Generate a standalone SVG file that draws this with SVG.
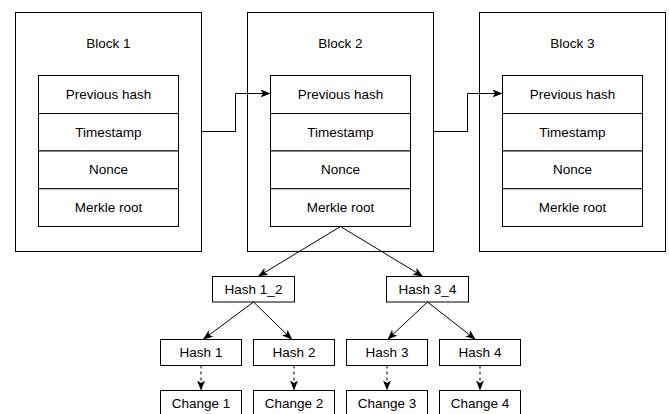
<svg xmlns="http://www.w3.org/2000/svg" width="669" height="414" viewBox="0 0 669 414">
<style>
  .box{fill:#fff;stroke:#000;stroke-width:1}
  .t{font-family:"Liberation Sans",Arial,Helvetica,sans-serif;font-size:13.5px;fill:#000;text-anchor:middle;dominant-baseline:central}
  .e{fill:none;stroke:#000;stroke-width:1}
  .d{fill:none;stroke:#000;stroke-width:1;stroke-dasharray:3 3}
</style>
<defs>
  <marker id="arr" viewBox="0 0 10 8" refX="10" refY="4" markerWidth="10" markerHeight="8" markerUnits="userSpaceOnUse" orient="auto">
    <path d="M10,4 L0,0 L2.5,4 L0,8 Z" fill="#000"/>
  </marker>
</defs>
<rect width="669" height="414" fill="#fff"/>
<g id="block1">
  <rect class="box" x="15.5" y="12.5" width="186" height="239"/>
  <text class="t" x="108.5" y="43">Block 1</text>
  <rect class="box" x="38.5" y="75.5" width="140" height="38"/>
  <text class="t" x="108.5" y="94">Previous hash</text>
  <rect class="box" x="38.5" y="113.5" width="140" height="37.5"/>
  <text class="t" x="108.5" y="132">Timestamp</text>
  <rect class="box" x="38.5" y="151" width="140" height="37.75"/>
  <text class="t" x="108.5" y="169.5">Nonce</text>
  <rect class="box" x="38.5" y="188.75" width="140" height="37.75"/>
  <text class="t" x="108.5" y="207">Merkle root</text>
</g>
<g id="block2">
  <rect class="box" x="247.5" y="12.5" width="186" height="239"/>
  <text class="t" x="340.5" y="43">Block 2</text>
  <rect class="box" x="270.5" y="75.5" width="140" height="38"/>
  <text class="t" x="340.5" y="94">Previous hash</text>
  <rect class="box" x="270.5" y="113.5" width="140" height="37.5"/>
  <text class="t" x="340.5" y="132">Timestamp</text>
  <rect class="box" x="270.5" y="151" width="140" height="37.75"/>
  <text class="t" x="340.5" y="169.5">Nonce</text>
  <rect class="box" x="270.5" y="188.75" width="140" height="37.75"/>
  <text class="t" x="340.5" y="207">Merkle root</text>
</g>
<g id="block3">
  <rect class="box" x="479.5" y="12.5" width="186" height="239"/>
  <text class="t" x="572.5" y="43">Block 3</text>
  <rect class="box" x="502.5" y="75.5" width="140" height="38"/>
  <text class="t" x="572.5" y="94">Previous hash</text>
  <rect class="box" x="502.5" y="113.5" width="140" height="37.5"/>
  <text class="t" x="572.5" y="132">Timestamp</text>
  <rect class="box" x="502.5" y="151" width="140" height="37.75"/>
  <text class="t" x="572.5" y="169.5">Nonce</text>
  <rect class="box" x="502.5" y="188.75" width="140" height="37.75"/>
  <text class="t" x="572.5" y="207">Merkle root</text>
</g>
<g id="hash12">
  <rect class="box" x="212.5" y="276.5" width="82" height="25.5"/>
  <text class="t" x="253.5" y="289.5">Hash 1_2</text>
</g>
<g id="hash34">
  <rect class="box" x="386.5" y="276.5" width="82" height="25.5"/>
  <text class="t" x="427.5" y="289.5">Hash 3_4</text>
</g>
<g id="hash1">
  <rect class="box" x="160.5" y="339.5" width="81" height="26"/>
  <text class="t" x="201" y="352.5">Hash 1</text>
</g>
<g id="hash2">
  <rect class="box" x="253.5" y="339.5" width="81" height="26"/>
  <text class="t" x="294" y="352.5">Hash 2</text>
</g>
<g id="hash3">
  <rect class="box" x="346.5" y="339.5" width="81" height="26"/>
  <text class="t" x="387" y="352.5">Hash 3</text>
</g>
<g id="hash4">
  <rect class="box" x="439.5" y="339.5" width="81" height="26"/>
  <text class="t" x="480" y="352.5">Hash 4</text>
</g>
<g id="change1">
  <rect class="box" x="160.5" y="390.5" width="81" height="26"/>
  <text class="t" x="201" y="403.5">Change 1</text>
</g>
<g id="change2">
  <rect class="box" x="253.5" y="390.5" width="81" height="26"/>
  <text class="t" x="294" y="403.5">Change 2</text>
</g>
<g id="change3">
  <rect class="box" x="346.5" y="390.5" width="81" height="26"/>
  <text class="t" x="387" y="403.5">Change 3</text>
</g>
<g id="change4">
  <rect class="box" x="439.5" y="390.5" width="81" height="26"/>
  <text class="t" x="480" y="403.5">Change 4</text>
</g>
<g id="connectors">
  <path class="e" d="M201.5,131.5 H235.5 V93.5 H270.5" marker-end="url(#arr)"/>
  <path class="e" d="M433.5,131.5 H467.5 V93.5 H502.5" marker-end="url(#arr)"/>
  <path class="e" d="M340.5,226.5 L258,276.5" marker-end="url(#arr)"/>
  <path class="e" d="M340.5,226.5 L423,276.5" marker-end="url(#arr)"/>
  <path class="e" d="M253.5,302 L203,339.5" marker-end="url(#arr)"/>
  <path class="e" d="M253.5,302 L292,339.5" marker-end="url(#arr)"/>
  <path class="e" d="M427.5,302 L387.5,339.5" marker-end="url(#arr)"/>
  <path class="e" d="M427.5,302 L475.5,339.5" marker-end="url(#arr)"/>
  <path class="d" d="M201,365.5 V390.5" marker-end="url(#arr)"/>
  <path class="d" d="M294,365.5 V390.5" marker-end="url(#arr)"/>
  <path class="d" d="M387,365.5 V390.5" marker-end="url(#arr)"/>
  <path class="d" d="M480,365.5 V390.5" marker-end="url(#arr)"/>
</g>
</svg>
